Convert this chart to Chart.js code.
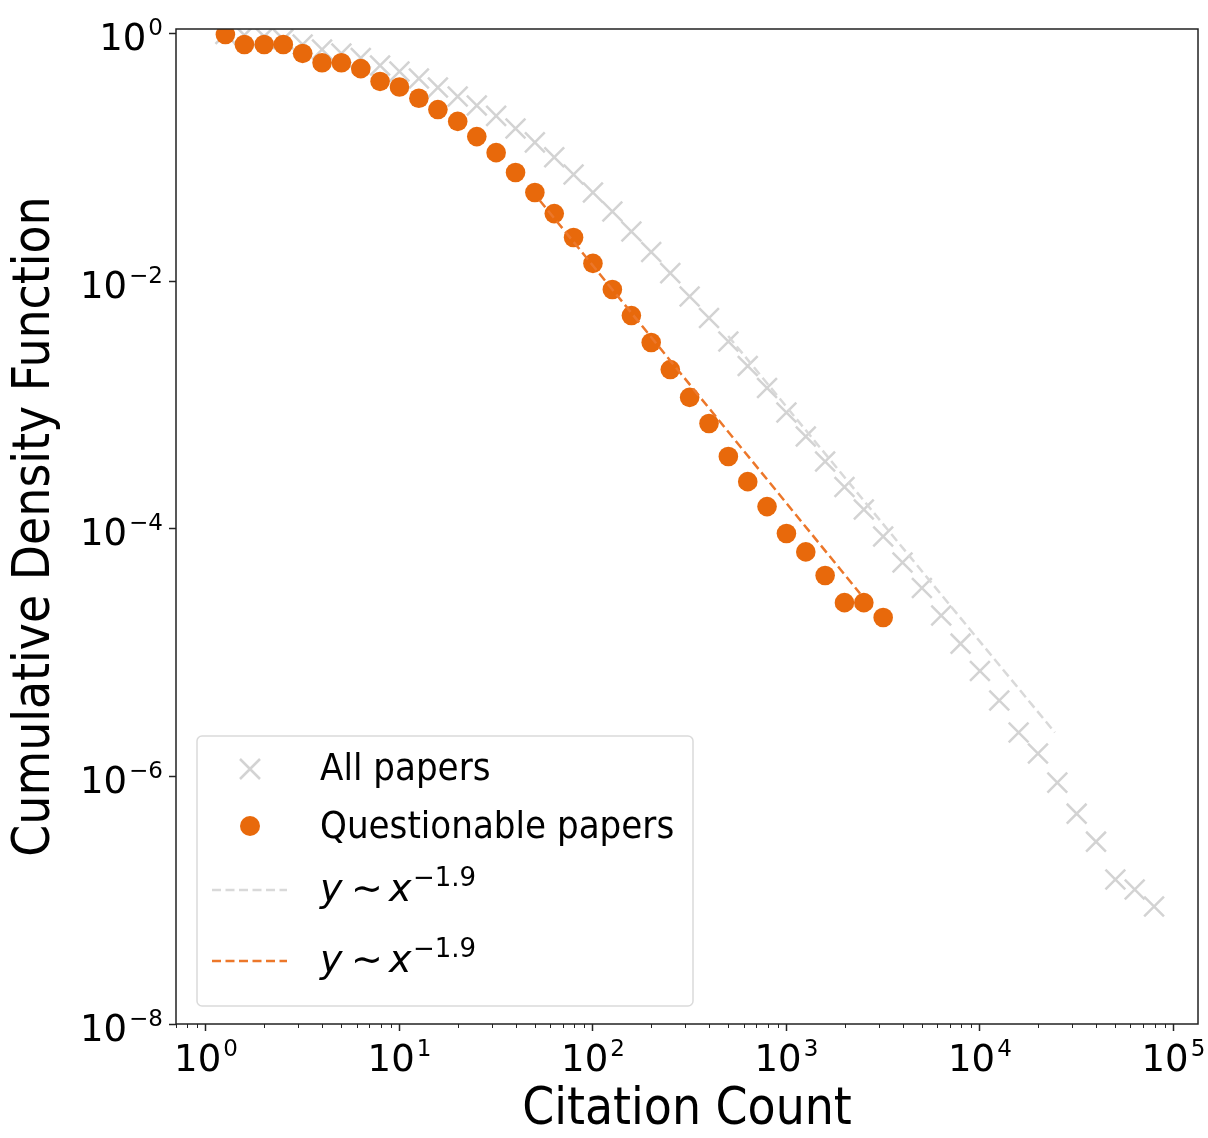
<!DOCTYPE html>
<html>
<head>
<meta charset="utf-8">
<script src="https://cdn.jsdelivr.net/npm/chart.js"></script>
<style>
  html, body { margin: 0; padding: 0; background: #fff; }
  canvas { display: block; }
</style>
</head>
<body>
<canvas id="cdfChart" width="1208" height="1138"></canvas>
<script>
// log-binned citation counts
const allX = [1.26, 1.58, 2.0, 2.51, 3.16, 3.98, 5.01, 6.31, 7.94, 10, 12.6, 15.8, 20, 25.1, 31.6, 39.8, 50.1, 63.1, 79.4, 100,
  126, 158, 200, 251, 316, 398, 501, 631, 794, 1000, 1259, 1585, 1995, 2512, 3162, 3981, 5012, 6310, 7943, 10000,
  12589, 15849, 19953, 25119, 31623, 39811, 50119, 63096, 79433];
const allY = [0.99, 0.97, 0.945, 0.90, 0.815, 0.743, 0.69, 0.634, 0.552, 0.493, 0.433, 0.366, 0.31, 0.262, 0.216, 0.171, 0.132, 0.100, 0.0726, 0.052,
  0.0365, 0.0252, 0.0172, 0.0116, 0.0075, 0.00504, 0.00325, 0.00206, 0.00137, 0.00087, 0.000556, 0.000349, 0.000217, 0.000143, 8.65e-5, 5.33e-5, 3.32e-5, 1.99e-5, 1.18e-5, 7.1e-6,
  4.1e-6, 2.26e-6, 1.53e-6, 8.9e-7, 5.0e-7, 2.97e-7, 1.47e-7, 1.22e-7, 8.9e-8];

const questionableX = [1.26, 1.58, 2.0, 2.51, 3.16, 3.98, 5.01, 6.31, 7.94, 10, 12.6, 15.8, 20, 25.1, 31.6, 39.8, 50.1, 63.1, 79.4, 100,
  126, 158, 200, 251, 316, 398, 501, 631, 794, 1000, 1259, 1585, 1995, 2512, 3162];
const questionableY = [0.98, 0.815, 0.815, 0.815, 0.69, 0.58, 0.58, 0.52, 0.41, 0.37, 0.30, 0.243, 0.195, 0.147, 0.109, 0.0754, 0.052, 0.0351, 0.0225, 0.0139,
  0.00855, 0.00527, 0.00319, 0.00193, 0.00115, 0.000708, 0.000383, 0.00024, 0.000151, 9.15e-5, 6.5e-5, 4.19e-5, 2.53e-5, 2.53e-5, 1.92e-5];

// power-law guide lines, end points
const allFitX = [500, 24400];
const allFitY = [3.6e-3, 2.26e-6];
const questionableFitX = [53, 2400];
const questionableFitY = [0.045, 3.0e-5];

// tick values and their exponents (labels are drawn as 10^exp)
const xTickValues = [1, 10, 100, 1000, 10000, 100000];
const xTickExps = ['0', '1', '2', '3', '4', '5'];
const yTickValues = [1, 1e-2, 1e-4, 1e-6, 1e-8];
const yTickExps = ['0', '−2', '−4', '−6', '−8'];

const legendLabels = ['All papers', 'Questionable papers'];

const FONT = "'DejaVu Sans Condensed', 'DejaVu Sans', sans-serif";
const MATH_FONT = "'DejaVu Sans', sans-serif";
const ORANGE = '#E8690B';
const ORANGE_LINE = '#EC772A';
const GREY = '#D3D3D3';
const GREY_LINE = '#D9D9D9';

const pts = (xs, ys) => xs.map((x, i) => ({x: x, y: ys[i]}));

// frame + minor ticks on the x axis
const framePlugin = {
  id: 'frame',
  afterDatasetsDraw(chart) {
    const ctx = chart.ctx, a = chart.chartArea, xs = chart.scales.x;
    ctx.save();
    ctx.strokeStyle = '#222';
    ctx.lineWidth = 1;
    for (let e = -1; e <= 5; e++) {
      for (let m = 2; m <= 9; m++) {
        const v = m * Math.pow(10, e);
        if (v < xs.min || v > xs.max) continue;
        const px = Math.round(xs.getPixelForValue(v)) + 0.5;
        ctx.beginPath();
        ctx.moveTo(px, a.bottom);
        ctx.lineTo(px, a.bottom + 4);
        ctx.stroke();
      }
    }
    ctx.lineWidth = 1.5;
    ctx.strokeRect(a.left, a.top, a.right - a.left, a.bottom - a.top);
    ctx.restore();
  }
};

// "10" with a raised exponent, like matplotlib's mathtext tick labels
function drawPow(ctx, exp, x, baseline, align) {
  ctx.font = '37px ' + MATH_FONT;
  const wb = ctx.measureText('10').width;
  ctx.font = '23px ' + MATH_FONT;
  const we = ctx.measureText(exp).width;
  const total = wb + 2 + we;
  const x0 = align === 'right' ? x - total : x - total / 2;
  ctx.textAlign = 'left';
  ctx.textBaseline = 'alphabetic';
  ctx.font = '37px ' + MATH_FONT;
  ctx.fillText('10', x0, baseline);
  ctx.font = '23px ' + MATH_FONT;
  ctx.fillText(exp, x0 + wb + 2, baseline - 15);
}

const tickLabelPlugin = {
  id: 'powLabels',
  afterDraw(chart) {
    const ctx = chart.ctx, a = chart.chartArea;
    const xs = chart.scales.x, ys = chart.scales.y;
    ctx.save();
    ctx.fillStyle = '#000';
    xTickValues.forEach((v, i) => drawPow(ctx, xTickExps[i], xs.getPixelForValue(v), a.bottom + 47, 'center'));
    yTickValues.forEach((v, i) => drawPow(ctx, yTickExps[i], a.left - 13, ys.getPixelForValue(v) + 16.5, 'right'));
    ctx.restore();
  }
};

function mathLabel(ctx, x, y) {
  // y ~ x^{-1.9}
  ctx.fillStyle = '#000';
  ctx.textBaseline = 'alphabetic';
  ctx.textAlign = 'left';
  ctx.font = 'italic 38px ' + MATH_FONT;
  ctx.fillText('y', x, y);
  ctx.font = '38px ' + MATH_FONT;
  ctx.fillText('∼', x + 31, y);
  ctx.font = 'italic 38px ' + MATH_FONT;
  ctx.fillText('x', x + 69, y);
  ctx.font = '26px ' + MATH_FONT;
  ctx.fillText('−1.9', x + 93, y - 15);
}

const legendPlugin = {
  id: 'boxLegend',
  afterDraw(chart) {
    const ctx = chart.ctx, a = chart.chartArea;
    const bx = a.left + 21, by = a.bottom - 288, bw = 496, bh = 270, r = 5;
    ctx.save();
    ctx.beginPath();
    ctx.moveTo(bx + r, by);
    ctx.arcTo(bx + bw, by, bx + bw, by + bh, r);
    ctx.arcTo(bx + bw, by + bh, bx, by + bh, r);
    ctx.arcTo(bx, by + bh, bx, by, r);
    ctx.arcTo(bx, by, bx + bw, by, r);
    ctx.closePath();
    ctx.fillStyle = 'rgba(255,255,255,0.8)';
    ctx.fill();
    ctx.strokeStyle = '#DADADA';
    ctx.lineWidth = 1.5;
    ctx.stroke();

    const mx = bx + 53, tx = bx + 123;
    // cross marker
    ctx.strokeStyle = GREY;
    ctx.lineWidth = 2.5;
    ctx.beginPath();
    ctx.moveTo(mx - 10, by + 23); ctx.lineTo(mx + 10, by + 43);
    ctx.moveTo(mx + 10, by + 23); ctx.lineTo(mx - 10, by + 43);
    ctx.stroke();
    // dot marker
    ctx.fillStyle = ORANGE;
    ctx.beginPath();
    ctx.arc(mx, by + 90, 10, 0, Math.PI * 2);
    ctx.fill();
    // dashed samples
    ctx.setLineDash([9, 4.5]);
    ctx.lineWidth = 2.5;
    ctx.strokeStyle = GREY_LINE;
    ctx.beginPath(); ctx.moveTo(bx + 15, by + 154); ctx.lineTo(bx + 90, by + 154); ctx.stroke();
    ctx.strokeStyle = ORANGE_LINE;
    ctx.beginPath(); ctx.moveTo(bx + 15, by + 225); ctx.lineTo(bx + 90, by + 225); ctx.stroke();
    ctx.setLineDash([]);

    ctx.fillStyle = '#000';
    ctx.font = '38px ' + FONT;
    ctx.textBaseline = 'alphabetic';
    ctx.fillText(legendLabels[0], tx, by + 44);
    ctx.fillText(legendLabels[1], tx, by + 102);
    mathLabel(ctx, tx, by + 165);
    mathLabel(ctx, tx, by + 236);
    ctx.restore();
  }
};

const fixBox = (w, h) => s => {
  if (w) s.width = w;
  if (h) s.height = h;
  s.paddingLeft = 0; s.paddingRight = 0; s.paddingTop = 0; s.paddingBottom = 0;
};

new Chart(document.getElementById('cdfChart'), {
  type: 'scatter',
  data: {
    datasets: [
      {
        label: 'y ~ x^-1.9 (questionable)',
        data: pts(questionableFitX, questionableFitY),
        showLine: true,
        borderColor: ORANGE_LINE,
        borderWidth: 2.5,
        borderDash: [9, 4.5],
        pointRadius: 0,
        order: 1
      },
      {
        label: 'y ~ x^-1.9 (all)',
        data: pts(allFitX, allFitY),
        showLine: true,
        borderColor: GREY_LINE,
        borderWidth: 2.5,
        borderDash: [9, 4.5],
        pointRadius: 0,
        order: 2
      },
      {
        label: legendLabels[1],
        data: pts(questionableX, questionableY),
        pointStyle: 'circle',
        pointRadius: 9.8,
        backgroundColor: ORANGE,
        borderColor: ORANGE,
        borderWidth: 0,
        order: 3
      },
      {
        label: legendLabels[0],
        data: pts(allX, allY),
        pointStyle: 'crossRot',
        pointRadius: 14,
        borderColor: GREY,
        borderWidth: 2.5,
        order: 4
      }
    ]
  },
  options: {
    responsive: false,
    animation: false,
    events: [],
    layout: { autoPadding: false, padding: { top: 29, right: 10, left: 0, bottom: 0 } },
    scales: {
      x: {
        type: 'logarithmic',
        min: 0.705,
        max: 134000,
        afterFit: fixBox(0, 114),
        afterBuildTicks: s => { s.ticks = xTickValues.map(v => ({value: v})); },
        border: { display: false },
        grid: { drawOnChartArea: false, tickLength: 7, tickColor: '#222', tickWidth: 1.5 },
        ticks: { display: false, autoSkip: false },
        title: {
          display: true,
          text: 'Citation Count',
          color: '#000',
          font: { family: FONT, size: 51, lineHeight: 1 },
          padding: { top: 0, bottom: 2 }
        }
      },
      y: {
        type: 'logarithmic',
        min: 1e-8,
        max: 1.087,
        afterFit: fixBox(176, 0),
        afterBuildTicks: s => { s.ticks = yTickValues.map(v => ({value: v})); },
        border: { display: false },
        grid: { drawOnChartArea: false, tickLength: 7, tickColor: '#222', tickWidth: 1.5 },
        ticks: { display: false, autoSkip: false },
        title: {
          display: true,
          text: 'Cumulative Density Function',
          color: '#000',
          font: { family: FONT, size: 51, lineHeight: 1 },
          padding: { top: 10, bottom: 0 }
        }
      }
    },
    plugins: {
      legend: { display: false },
      tooltip: { enabled: false }
    }
  },
  plugins: [framePlugin, tickLabelPlugin, legendPlugin]
});
</script>
</body>
</html>
